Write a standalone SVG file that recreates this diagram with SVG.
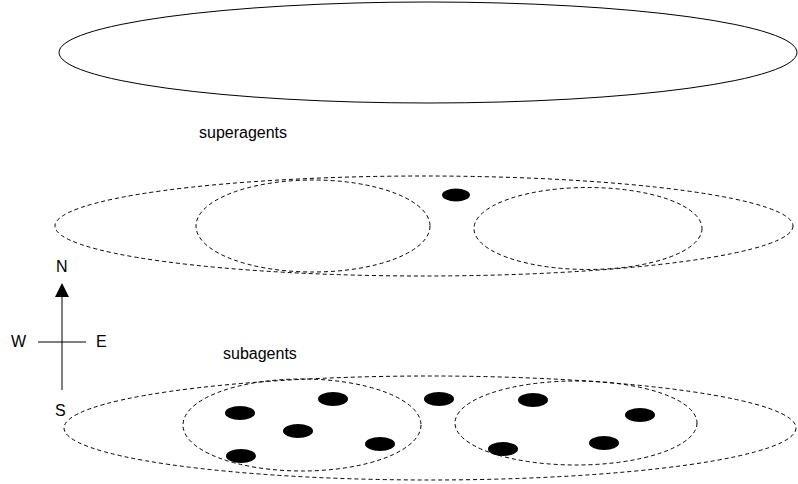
<svg xmlns="http://www.w3.org/2000/svg" width="798" height="484" viewBox="0 0 798 484">
<style>
.solid{fill:none;stroke:#000;stroke-width:1}
.dash{fill:none;stroke:#000;stroke-width:1;stroke-dasharray:4,3}
.dot{fill:#000}
text{font-family:"Liberation Sans",Arial,sans-serif;font-size:16px;fill:#000}
</style>
<rect width="798" height="484" fill="#fff"/>
<g id="top-layer">
<ellipse class="solid" cx="428" cy="52.5" rx="369" ry="50.5"/>
</g>
<g id="superagents-label"><text x="199" y="138">superagents</text></g>
<g id="super-layer">
<ellipse class="dash" cx="424" cy="226" rx="369" ry="50"/>
<ellipse class="dash" cx="313" cy="226" rx="117" ry="46"/>
<ellipse class="dash" cx="588" cy="228.5" rx="114" ry="41"/>
<ellipse class="dot" cx="456" cy="195" rx="14" ry="6.5"/>
</g>
<g id="compass">
<line class="solid" x1="62" y1="390" x2="62" y2="296"/>
<path d="M55,297 L62,283 L69,297 Z" fill="#000"/>
<line class="solid" x1="38" y1="342" x2="86" y2="342"/>
<text x="56" y="272">N</text>
<text x="11" y="347">W</text>
<text x="96" y="347">E</text>
<text x="55" y="416">S</text>
</g>
<g id="subagents-label"><text x="223" y="359">subagents</text></g>
<g id="sub-layer">
<ellipse class="dash" cx="430" cy="428" rx="366" ry="52"/>
<ellipse class="dash" cx="302" cy="425" rx="119" ry="46"/>
<ellipse class="dash" cx="576" cy="423" rx="121" ry="42"/>
<ellipse class="dot" cx="240" cy="413" rx="15" ry="7"/>
<ellipse class="dot" cx="333" cy="399" rx="15" ry="7"/>
<ellipse class="dot" cx="298" cy="431" rx="15" ry="7"/>
<ellipse class="dot" cx="380" cy="444" rx="15" ry="7"/>
<ellipse class="dot" cx="241" cy="456" rx="15" ry="7"/>
<ellipse class="dot" cx="439" cy="399" rx="15" ry="7"/>
<ellipse class="dot" cx="533" cy="400" rx="15" ry="7"/>
<ellipse class="dot" cx="640" cy="415" rx="15" ry="7"/>
<ellipse class="dot" cx="604" cy="443" rx="15" ry="7"/>
<ellipse class="dot" cx="503" cy="449" rx="15" ry="7"/>
</g>
</svg>
